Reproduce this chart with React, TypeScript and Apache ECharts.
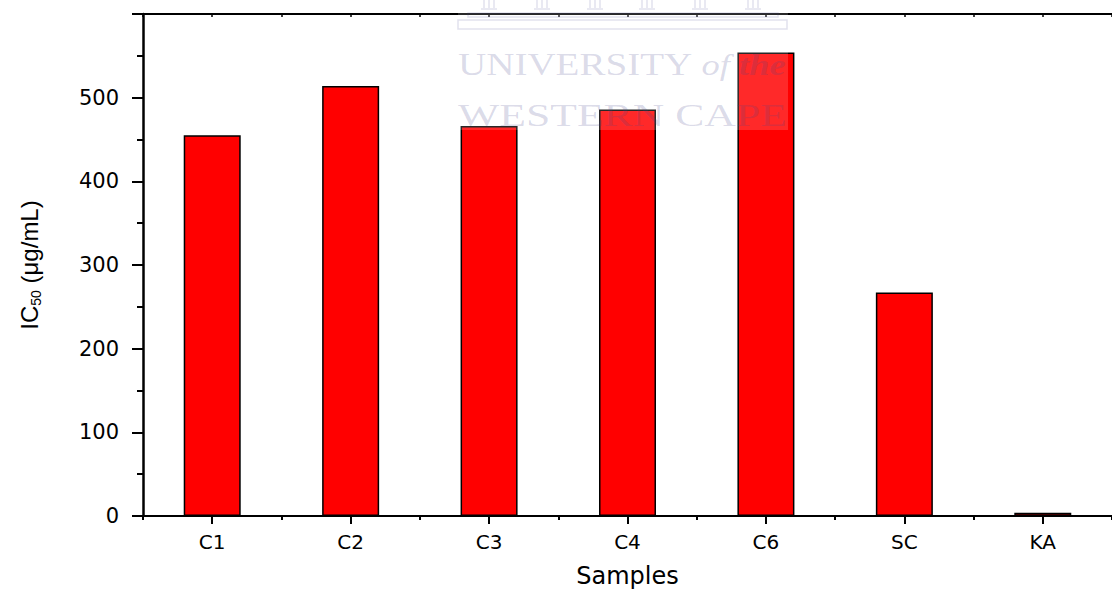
import React, { useEffect, useRef } from "react";
import * as echarts from "echarts";

const categories = ["C1", "C2", "C3", "C4", "C6", "SC", "KA"];
const ic50Values = [455, 514, 466, 486, 554, 267, 4];
const yMin = 0;
const yMax = 600;
const yInterval = 100;
const xAxisTitle = "Samples";
const yAxisTitle = "{a|IC}{b|50}{a| (μg/mL)}";
const watermarkLine1 = "{u|UNIVERSITY}{o| of }{t|the}";
const watermarkLine2 = "WESTERN CAPE";

const WM = "rgba(70,70,140,0.2)";
const WM_LINE = "rgba(70,70,140,0.16)";

function buildWatermark(): any[] {
  const els: any[] = [];
  els.push({
    type: "rect",
    shape: { x: 458, y: 0, width: 330, height: 130 },
    style: { fill: "rgba(255,255,255,0.16)" },
    z: 100,
    silent: true,
  });
  els.push({
    type: "rect",
    shape: { x: 468, y: 13, width: 310, height: 4 },
    style: { fill: "none", stroke: WM_LINE, lineWidth: 1.5 },
    z: 101,
    silent: true,
  });
  els.push({
    type: "rect",
    shape: { x: 458, y: 20, width: 329, height: 9 },
    style: { fill: "none", stroke: WM_LINE, lineWidth: 1.5 },
    z: 101,
    silent: true,
  });
  const colX = [489, 542, 595, 647, 700, 753];
  colX.forEach((cx) => {
    [-5, 0, 5].forEach((d) => {
      els.push({
        type: "line",
        shape: { x1: cx + d, y1: 0, x2: cx + d, y2: 8 },
        style: { stroke: WM_LINE, lineWidth: 1.5 },
        z: 101,
        silent: true,
      });
    });
    els.push({
      type: "line",
      shape: { x1: cx - 8, y1: 9, x2: cx + 8, y2: 9 },
      style: { stroke: WM_LINE, lineWidth: 1.5 },
      z: 101,
      silent: true,
    });
  });
  els.push({
    type: "text",
    x: 458,
    y: 65,
    scaleX: 1.26,
    style: {
      text: watermarkLine1,
      verticalAlign: "middle",
      align: "left",
      rich: {
        u: { fontFamily: "Liberation Serif", fontSize: 31, fill: WM, color: WM },
        o: { fontFamily: "Liberation Serif", fontStyle: "italic", fontSize: 29, fill: WM, color: WM },
        t: { fontFamily: "Liberation Serif", fontStyle: "italic", fontWeight: "bold", fontSize: 29, fill: WM, color: WM },
      },
    },
    z: 102,
    silent: true,
  });
  els.push({
    type: "text",
    x: 458,
    y: 115,
    scaleX: 1.41,
    style: {
      text: watermarkLine2,
      fontFamily: "Liberation Serif",
      fontSize: 31,
      fill: WM,
      verticalAlign: "middle",
      align: "left",
    },
    z: 102,
    silent: true,
  });
  return els;
}

export default function App() {
  const ref = useRef<HTMLDivElement>(null);

  useEffect(() => {
    if (!ref.current) return;
    const chart = echarts.init(ref.current, undefined, { renderer: "svg" });
    const tickFont = "DejaVu Sans";
    chart.setOption({
      animation: false,
      backgroundColor: "#ffffff",
      grid: { left: 143, right: -10, top: 14, bottom: 79, containLabel: false },
      xAxis: [
        {
          type: "category",
          position: "bottom",
          data: categories,
          boundaryGap: true,
          axisLine: { show: true, lineStyle: { color: "#000", width: 2 } },
          axisTick: { show: true, alignWithLabel: true, length: 8, interval: 0, lineStyle: { color: "#000", width: 2 } },
          axisLabel: { color: "#000", fontFamily: tickFont, fontSize: 20, margin: 16, interval: 0 },
          splitLine: { show: false },
          name: xAxisTitle,
          nameLocation: "middle",
          nameGap: 48,
          nameTextStyle: { color: "#000", fontFamily: tickFont, fontSize: 24 },
        },
        {
          type: "category",
          position: "bottom",
          data: categories,
          boundaryGap: true,
          axisLine: { show: false },
          axisTick: { show: true, alignWithLabel: false, length: 4, interval: 0, lineStyle: { color: "#000", width: 2 } },
          axisLabel: { show: false },
          splitLine: { show: false },
        },
        {
          type: "value",
          position: "top",
          min: 0,
          max: categories.length,
          interval: 0.5,
          axisLine: { show: true, onZero: false, lineStyle: { color: "#000", width: 2 } },
          axisTick: { show: true, inside: true, length: 3, lineStyle: { color: "#000", width: 1.5 } },
          axisLabel: { show: false },
          splitLine: { show: false },
        },
      ],
      yAxis: [
        {
          type: "value",
          min: yMin,
          max: yMax,
          interval: yInterval,
          axisLine: { show: true, lineStyle: { color: "#000", width: 2.5 } },
          axisTick: { show: true, length: 11, lineStyle: { color: "#000", width: 2 } },
          minorTick: { show: true, splitNumber: 2, length: 6, lineStyle: { color: "#000", width: 2 } },
          axisLabel: { color: "#000", fontFamily: tickFont, fontSize: 21, margin: 24, showMaxLabel: false },
          splitLine: { show: false },
          minorSplitLine: { show: false },
          name: yAxisTitle,
          nameLocation: "middle",
          nameRotate: 90,
          nameGap: 100,
          nameTextStyle: {
            color: "#000",
            rich: {
              a: { fontFamily: "Liberation Sans", fontSize: 24, color: "#000", lineHeight: 28 },
              b: { fontFamily: "Liberation Sans", fontSize: 14, color: "#000", lineHeight: 14, verticalAlign: "bottom" },
            },
          },
        },
      ],
      series: [
        {
          type: "bar",
          xAxisIndex: 0,
          yAxisIndex: 0,
          data: ic50Values,
          barWidth: 57,
          itemStyle: { color: "#ff0000", borderColor: "#000000", borderWidth: 1.5 },
        },
      ],
      graphic: buildWatermark(),
    });
    return () => {
      chart.dispose();
    };
  }, []);

  return (
    <div
      ref={ref}
      style={{ position: "absolute", left: 0, top: 0, width: 1112, height: 595, overflow: "hidden" }}
    />
  );
}
